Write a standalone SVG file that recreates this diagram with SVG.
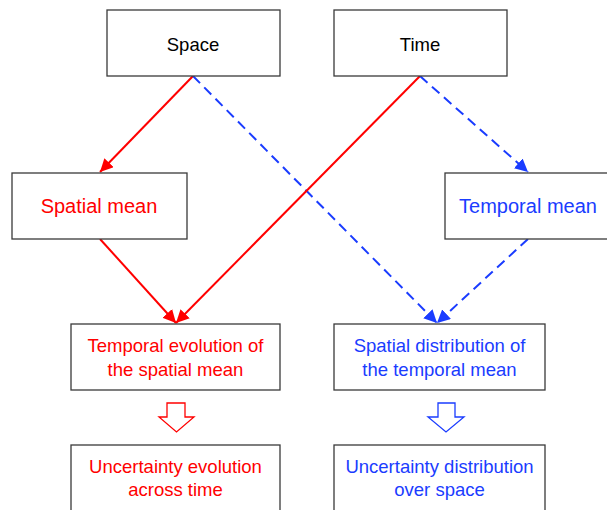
<svg xmlns="http://www.w3.org/2000/svg" width="607" height="510" viewBox="0 0 607 510">
<style>
.box{fill:#fff;stroke:#3a3a3a;stroke-width:1.3}
text{font-family:"Liberation Sans",Arial,sans-serif;text-anchor:middle}
.k{fill:#000;font-size:18.5px}
.r{fill:#ff0000;font-size:18.5px}
.b{fill:#1a3cff;font-size:18.5px}
.m{font-size:20px}
.lr{stroke:#ff0000;stroke-width:2;fill:none}
.lb{stroke:#1a3cff;stroke-width:2;fill:none;stroke-dasharray:10,6}
</style>
<defs>
<marker id="ar" viewBox="0 0 10 10" refX="10" refY="5" markerWidth="13" markerHeight="13" markerUnits="userSpaceOnUse" orient="auto"><path d="M0,0L10,5L0,10z" fill="#ff0000"/></marker>
<marker id="ab" viewBox="0 0 10 10" refX="10" refY="5" markerWidth="13" markerHeight="13" markerUnits="userSpaceOnUse" orient="auto"><path d="M0,0L10,5L0,10z" fill="#1a3cff"/></marker>
</defs>
<g id="connectors">
<line class="lr" x1="193" y1="76" x2="100" y2="172" marker-end="url(#ar)"/>
<line class="lb" x1="193" y1="76" x2="437" y2="323" marker-end="url(#ab)"/>
<line class="lr" x1="420" y1="76" x2="176" y2="323" marker-end="url(#ar)"/>
<line class="lb" x1="420" y1="76" x2="528" y2="172" marker-end="url(#ab)"/>
<line class="lr" x1="100" y1="239" x2="176" y2="323" marker-end="url(#ar)"/>
<line class="lb" x1="528" y1="239" x2="437" y2="323" marker-end="url(#ab)"/>
<polygon points="167,403 185,403 185,417 194,417 176.5,432 159,417 167,417" fill="#fff" stroke="#ff0000" stroke-width="1.3"/>
<polygon points="438,403 455,403 455,417 464,417 446,432 428,417 438,417" fill="#fff" stroke="#1a3cff" stroke-width="1.3"/>
</g>
<g id="space"><rect class="box" x="107" y="10" width="173" height="66"/><text class="k" x="193" y="51">Space</text></g>
<g id="time"><rect class="box" x="334" y="10" width="173" height="66"/><text class="k" x="420" y="51">Time</text></g>
<g id="spatial-mean"><rect class="box" x="12" y="173" width="175" height="66"/><text class="r m" x="99" y="213">Spatial mean</text></g>
<g id="temporal-mean"><rect class="box" x="445" y="173" width="170" height="66"/><text class="b m" x="528" y="213">Temporal mean</text></g>
<g id="temporal-evolution"><rect class="box" x="71" y="324" width="209" height="66"/><text class="r" x="175.5" y="352">Temporal evolution of</text><text class="r" x="175.5" y="376">the spatial mean</text></g>
<g id="spatial-distribution"><rect class="box" x="334" y="324" width="211" height="66"/><text class="b" x="439.5" y="352">Spatial distribution of</text><text class="b" x="439.5" y="376">the temporal mean</text></g>
<g id="uncertainty-evolution"><rect class="box" x="71" y="445" width="209" height="80"/><text class="r" x="175.5" y="473">Uncertainty evolution</text><text class="r" x="175.5" y="496">across time</text></g>
<g id="uncertainty-distribution"><rect class="box" x="334" y="445" width="211" height="80"/><text class="b" x="439.5" y="473">Uncertainty distribution</text><text class="b" x="439.5" y="496">over space</text></g>
</svg>
